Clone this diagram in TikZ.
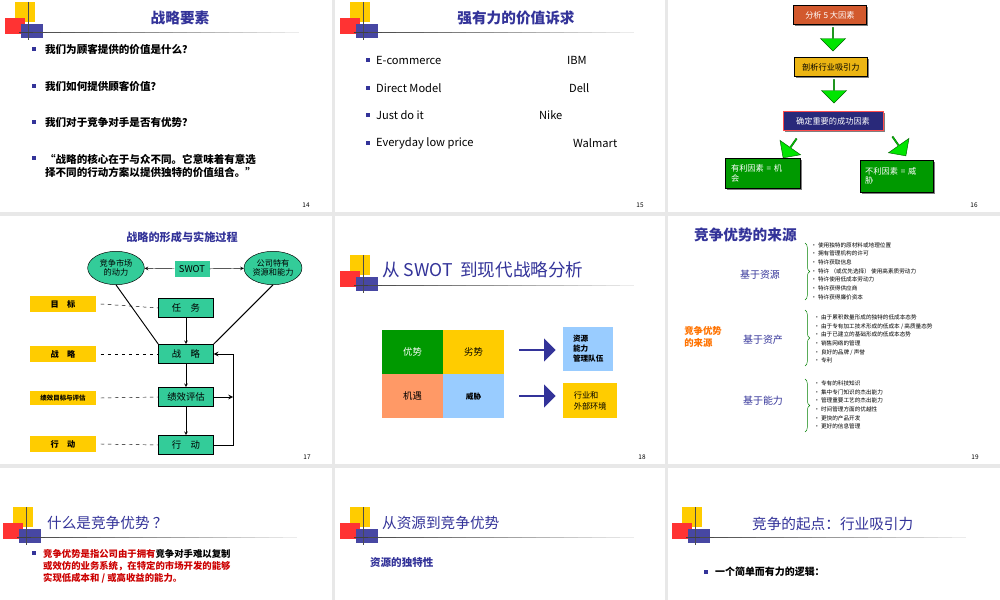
\documentclass[tikz,border=0pt]{standalone}
\usepackage{fontspec}
\setmainfont{Noto Sans CJK SC}
\usetikzlibrary{shadows,shapes.arrows,shapes.geometric,decorations.pathreplacing}
\definecolor{navy}{HTML}{333399}
\definecolor{teal}{HTML}{33CC99}
\definecolor{gold}{HTML}{FFCC00}
\definecolor{lblue}{HTML}{99CCFF}
\definecolor{salmon}{HTML}{FF9966}
\definecolor{dgreen}{HTML}{009900}
\newcommand\slidelogo[2]{%
  \begin{scope}[shift={(#1,#2)}]
    \fill [gold] (10,0) rectangle (30,20);
    \fill [red!80] (0,16) rectangle (20,32);
    \fill [navy!90] (16,22) rectangle (38,36);
    \draw [black!70, thick] (23,0) -- (23,38);
    \foreach \k [evaluate=\k as \shade using int(75-\k*3.5)] in {0,...,19}
      \draw [line width=0.8pt, black!\shade] (14+\k*14,30.5) -- (28+\k*14,30.5);
  \end{scope}}
\begin{document}
\begin{tikzpicture}[x=0.03cm, y=-0.03cm,
  Title/.style={text=navy, font=\fontsize{12.5}{13}\selectfont\bfseries},
  Body/.style={anchor=west, font=\fontsize{9}{11}\selectfont\bfseries, align=left},
  Bullet/.style={fill=navy, minimum size=0.12cm, inner sep=0pt},
  PageNo/.style={font=\fontsize{5.5}{6}\selectfont},
  Step/.style={draw, minimum width=2.2cm, minimum height=0.57cm, text=white, font=\fontsize{7}{8}\selectfont, drop shadow={shadow xshift=0.05cm, shadow yshift=-0.05cm, fill=black}},
  GreenArrow/.style={single arrow, draw=green!40!black, fill=green!90!black, minimum width=0.75cm, minimum height=0.7cm, single arrow head extend=0.12cm, inner sep=0pt},
  Flow/.style={draw, fill=teal, minimum width=1.65cm, minimum height=0.58cm, font=\fontsize{8}{9}\selectfont},
  Tag/.style={fill=gold, minimum width=1.95cm, minimum height=0.42cm, font=\fontsize{7}{8}\selectfont\itshape\bfseries},
  Oval/.style={ellipse, draw, fill=teal, minimum width=1.7cm, minimum height=1.0cm, inner sep=0pt, align=center, font=\fontsize{7}{8}\selectfont},
  Cell/.style={minimum width=1.82cm, minimum height=1.32cm, inner sep=0pt, font=\fontsize{8}{9}\selectfont},
  BlueArrow/.style={single arrow, fill=navy, minimum width=0.7cm, minimum height=1.1cm, single arrow head extend=0.1cm, inner sep=0pt},
  Tiny/.style={anchor=west, align=left, font=\fontsize{4.8}{7.4}\selectfont},
  Base/.style={text=navy, font=\fontsize{8.5}{9}\selectfont}]

% backdrop and slide panes
\fill [black!9] (0,0) rectangle (1000,600);
\foreach \sx/\sy/\ex/\ey in {0/0/332/212, 335/0/665/212, 668/0/1000/212,
  0/216/332/464, 335/216/665/464, 668/216/1000/464,
  0/468/332/600, 335/468/665/600, 668/468/1000/600}
  \fill [white] (\sx,\sy) rectangle (\ex,\ey);

% slide 14
\slidelogo{5}{2}
\node [Title] (t14) at (180,18) {战略要素};
\foreach \yy/\txt in {49/我们为顾客提供的价值是什么？, 86/我们如何提供顾客价值？, 122/我们对于竞争对手是否有优势？} {
  \node [Bullet] at (34,\yy) {};
  \node [Body] at (41,\yy) {\txt};
}
\node [Bullet] at (34,158) {};
\node [Body, anchor=north west] (q14) at (41,150) {“战略的核心在于与众不同。它意味着有意选\\择不同的行动方案以提供独特的价值组合。”};
\node [PageNo] at (306,205) {14};

% slide 15
\slidelogo{340}{2}
\node [Title] (t15) at (516,18) {强有力的价值诉求};
\foreach \yy/\lft/\rx/\rgt in {60/E-commerce/563/IBM, 88/Direct Model/565/Dell, 115/Just do it/535/Nike, 143/Everyday low price/569/Walmart} {
  \node [Bullet] at (368,\yy) {};
  \node [Body, font=\fontsize{9.5}{11}\selectfont\mdseries] at (372,\yy) {\lft};
  \node [Body, font=\fontsize{9.5}{11}\selectfont\mdseries] at (\rx,\yy) {\rgt};
}
\node [PageNo] at (640,205) {15};

% slide 16
\node [Step, fill=brown!70!red, anchor=west] (five) at (793,15) {分析 5 大因素};
\node [Step, fill=gold!70!brown, text=black, anchor=west] (pull) at (794,67) {剖析行业吸引力};
\node [Step, fill=navy!80!black, minimum width=3cm, draw=red!70] (key) at (833,121) {确定重要的成功因素};
\node [Step, fill=dgreen, minimum width=2.25cm, minimum height=0.9cm, align=left, anchor=north west, text width=1.9cm] (good) at (725,158) {有利因素 = 机\\会};
\node [Step, fill=dgreen, minimum width=2.2cm, minimum height=0.95cm, align=left, anchor=north west, text width=1.9cm] (bad) at (860,160) {不利因素 = 威\\胁};
\node [GreenArrow, rotate=-90] (a1) at (833,39) {};
\node [GreenArrow, rotate=-90] (a2) at (834,91) {};
\node [GreenArrow, rotate=-125] (a3) at (790,148) {};
\node [GreenArrow, rotate=-55] (a4) at (899,146) {};
\node [PageNo] at (974,205) {16};

% slide 17
\node [Title, font=\fontsize{9.5}{10}\selectfont\bfseries] (t17) at (182,237) {战略的形成与实施过程};
\node [Oval] (market) at (116,268) {竞争市场\\的动力};
\node [Flow, minimum width=1.05cm, minimum height=0.5cm, draw=none] (swot) at (192,269) {SWOT};
\node [Oval, minimum width=1.65cm] (firm) at (273,268) {公司特有\\资源和能力};
\node [Flow] (task) at (186,308) {任\quad 务};
\node [Flow] (strat) at (186,354) {战\quad 略};
\node [Flow] (eval) at (186,397) {绩效评估};
\node [Flow] (act) at (186,445) {行\quad 动};
\node [Tag] (goal) at (63,304) {目\quad 标};
\node [Tag] (stag) at (63,354) {战\quad 略};
\node [Tag, font=\fontsize{5.5}{6}\selectfont\itshape\bfseries] (etag) at (63,398) {绩效目标与评估};
\node [Tag] (atag) at (63,444) {行\quad 动};
\draw [->, >=stealth] (swot) -- (market);
\draw [->, >=stealth] (swot) -- (firm);
\draw [thick] (market.south) -- (strat.north west);
\draw [thick] (firm.south) -- (strat.north east);
\foreach \a/\b in {goal/task, stag/strat, etag/eval, atag/act}
  \draw [dashed] (\a.east) ++(5,0) -- (\b.west);
\draw [->, >=stealth] (task) -- (strat);
\draw [->, >=stealth] (strat) -- (eval);
\draw [->, >=stealth] (eval) -- (act);
\coordinate (loop) at (233,445);
\draw [->, >=stealth, thick] (act.east) -- (loop) |- (strat.east);
\draw [->, >=stealth, thick] (eval.east) -- (eval.east -| loop);
\node [PageNo] at (307,457) {17};

% slide 18
\slidelogo{340}{255}
\node [text=navy, anchor=west, font=\fontsize{15}{16}\selectfont] (t18) at (378,270) {从 SWOT\ \ 到现代战略分析};
\node [Cell, fill=dgreen, text=white, anchor=north west] (str) at (382,330) {优势};
\node [Cell, fill=gold, anchor=north west] (weak) at (443,330) {劣势};
\node [Cell, fill=salmon, anchor=north west, font=\fontsize{8}{9}\selectfont\itshape] (opp) at (382,374) {机遇};
\node [Cell, fill=lblue, anchor=north west, font=\fontsize{6.5}{7}\selectfont\bfseries] (thr) at (443,374) {威胁};
\node [BlueArrow] (b1) at (537,350) {};
\node [BlueArrow] (b2) at (537,396) {};
\node [fill=lblue, anchor=north west, align=left, minimum width=1.5cm, minimum height=1.3cm, font=\fontsize{6.5}{8.5}\selectfont\bfseries] (res) at (563,327) {资源\\能力\\管理队伍};
\node [fill=gold, anchor=north west, align=left, minimum width=1.62cm, minimum height=1.05cm, font=\fontsize{7}{9.5}\selectfont] (env) at (563,383) {行业和\\外部环境};
\node [PageNo] at (642,457) {18};

% slide 19
\node [Title, anchor=west] (t19) at (690,235) {竞争优势的来源};
\node [text=orange!90!red, align=left, font=\fontsize{8}{10}\selectfont\bfseries] (src) at (703,337) {竞争优势\\的来源};
\node [Base] (r1) at (760,275) {基于资源};
\node [Base] (r2) at (763,340) {基于资产};
\node [Base] (r3) at (763,401) {基于能力};
\draw [green!50!black, decorate, decoration={brace, amplitude=4pt}] (805,243) -- (805,300);
\draw [green!50!black, decorate, decoration={brace, amplitude=4pt}] (805,310) -- (805,366);
\draw [green!50!black, decorate, decoration={brace, amplitude=4pt}] (805,379) -- (805,432);
\node [Tiny] (l1) at (807,271) {•\ 使用独特的原材料或地理位置\\•\ 拥有管理机构的许可\\•\ 特许获取信息\\•\ 特许 （或优先选择） 使用高素质劳动力\\•\ 特许使用低成本劳动力\\•\ 特许获得供应商\\•\ 特许获得廉价资本};
\node [Tiny] (l2) at (810,339) {•\ 由于累积数量形成的独特的低成本态势\\•\ 由于专有加工技术形成的低成本 / 高质量态势\\•\ 由于已建立的基础形成的低成本态势\\•\ 销售网络的管理\\•\ 良好的品牌 / 声誉\\•\ 专利};
\node [Tiny] (l3) at (810,405) {•\ 专有的科技知识\\•\ 集中专门知识的杰出能力\\•\ 管理重要工艺的杰出能力\\•\ 时间管理方面的优越性\\•\ 更快的产品开发\\•\ 更好的信息管理};
\node [PageNo] at (975,457) {19};

% slide 20
\slidelogo{3}{507}
\node [Title, anchor=west, font=\fontsize{12.5}{13}\selectfont] (t20) at (43,523) {什么是竞争优势 ？};
\node [Bullet, minimum size=0.1cm] at (34,553) {};
\node [Body, anchor=north west, text=red!80!black, font=\fontsize{8}{10.2}\selectfont\bfseries] (d20) at (39,545) {竞争优势是指公司由于拥有{\color{black}竞争对手难以复制}\\或效仿的业务系统，在特定的市场开发的能够\\实现低成本和 / 或高收益的能力。};

% slide 21
\slidelogo{340}{507}
\node [Title, anchor=west, font=\fontsize{12.5}{13}\selectfont] (t21) at (378,523) {从资源到竞争优势};
\node [Base, anchor=west, font=\fontsize{9}{10}\selectfont\bfseries] (u21) at (366,563) {资源的独特性};

% slide 22
\slidelogo{672}{507}
\node [Title, anchor=west, font=\fontsize{12.5}{13}\selectfont] (t22) at (748,524) {竞争的起点：行业吸引力};
\node [Bullet] at (706,572) {};
\node [Body, font=\fontsize{8.5}{10}\selectfont\bfseries] (b22) at (711,572) {一个简单而有力的逻辑：};
\end{tikzpicture}
\end{document}
